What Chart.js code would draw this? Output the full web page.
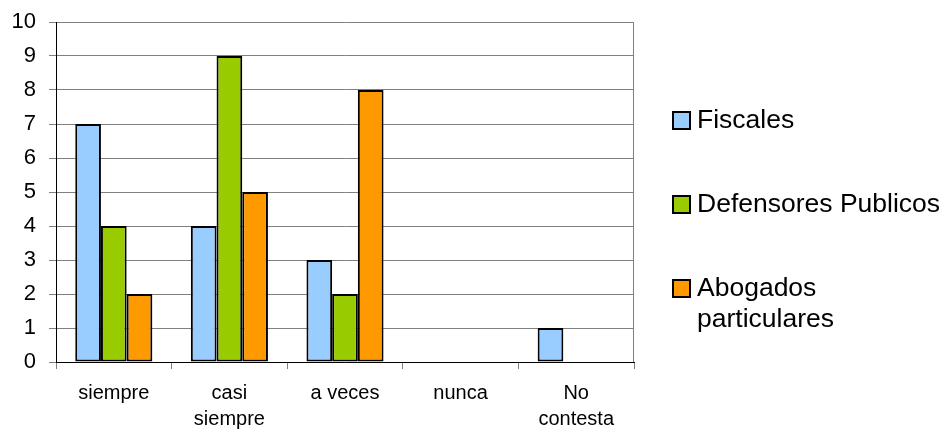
<!DOCTYPE html>
<html lang="es">
<head>
  <meta charset="UTF-8" />
  <title>Frecuencia por grupo</title>
  <script src="https://cdn.jsdelivr.net/npm/chart.js"></script>
  <style>
    html, body {
      margin: 0;
      padding: 0;
      background: #ffffff;
      font-family: "Liberation Sans", Arial, sans-serif;
    }
    #wrap {
      position: relative;
      width: 947px;
      height: 430px;
    }
    #legend {
      position: absolute;
      left: 672px;
      top: 0;
      font-size: 26.5px;
      color: #000;
    }
    .item {
      position: absolute;
      left: 0;
      width: 275px;
      line-height: 31px;
    }
    .box {
      position: absolute;
      left: 0;
      top: 7px;
      width: 15px;
      height: 15px;
      border: 2px solid #000;
    }
    .txt {
      margin-left: 25px;
      white-space: pre-line;
    }
  </style>
</head>
<body>
  <div id="wrap">
    <canvas id="chart" width="947" height="430"></canvas>
    <div id="legend"></div>
  </div>

  <script>
    const categories = [['siempre'], ['casi', 'siempre'], ['a veces'], ['nunca'], ['No', 'contesta']];
    const seriesNames = ['Fiscales', 'Defensores Publicos', 'Abogados\nparticulares'];
    const fiscales = [7, 4, 3, 0, 1];
    const defensores = [4, 9, 2, 0, 0];
    const abogados = [2, 5, 8, 0, 0];
    const colors = ['#99ccff', '#99cc00', '#ff9900'];
    const legendTops = [104, 188, 272];

    // leyenda a la derecha
    const legend = document.getElementById('legend');
    seriesNames.forEach((name, i) => {
      const item = document.createElement('div');
      item.className = 'item';
      item.style.top = legendTops[i] + 'px';
      item.innerHTML = '<span class="box" style="background:' + colors[i] + '"></span><div class="txt"></div>';
      item.querySelector('.txt').textContent = name;
      legend.appendChild(item);
    });

    // borde derecho del area del grafico
    const plotBorder = {
      id: 'plotBorder',
      afterDatasetsDraw(chart) {
        const a = chart.chartArea;
        const ctx = chart.ctx;
        ctx.save();
        ctx.strokeStyle = '#808080';
        ctx.lineWidth = 1;
        ctx.beginPath();
        ctx.moveTo(a.right - 0.5, a.top);
        ctx.lineTo(a.right - 0.5, a.bottom);
        ctx.stroke();
        ctx.restore();
      }
    };

    const ctx = document.getElementById('chart').getContext('2d');
    new Chart(ctx, {
      type: 'bar',
      data: {
        labels: categories,
        datasets: [
          { label: seriesNames[0], data: fiscales, backgroundColor: colors[0] },
          { label: seriesNames[1], data: defensores, backgroundColor: colors[1] },
          { label: seriesNames[2], data: abogados, backgroundColor: colors[2] }
        ]
      },
      options: {
        responsive: false,
        animation: false,
        layout: { padding: { top: 22, right: 313, bottom: 0, left: 0 } },
        datasets: {
          bar: {
            borderColor: '#000',
            borderWidth: 2,
            borderSkipped: false,
            categoryPercentage: 0.667,
            barPercentage: 1
          }
        },
        plugins: {
          legend: { display: false },
          tooltip: { enabled: false }
        },
        scales: {
          x: {
            grid: {
              offset: true,
              drawOnChartArea: false,
              tickLength: 7,
              color: '#808080'
            },
            border: { color: '#000', width: 1 },
            ticks: {
              color: '#000',
              padding: 11,
              maxRotation: 0,
              font: { family: '"Liberation Sans", Arial, sans-serif', size: 20, lineHeight: 1.3 }
            },
            afterFit(scale) {
              scale.height = 68;
              scale.paddingLeft = 0;
              scale.paddingRight = 0;
            }
          },
          y: {
            min: 0,
            max: 10,
            ticks: {
              stepSize: 1,
              color: '#000',
              padding: 13,
              font: { family: '"Liberation Sans", Arial, sans-serif', size: 22 }
            },
            grid: { color: '#808080', tickLength: 7 },
            border: { color: '#000', width: 1 },
            afterFit(scale) {
              scale.width = 56;
              scale.paddingTop = 0;
              scale.paddingBottom = 0;
            }
          }
        }
      },
      plugins: [plotBorder]
    });
  </script>
</body>
</html>
